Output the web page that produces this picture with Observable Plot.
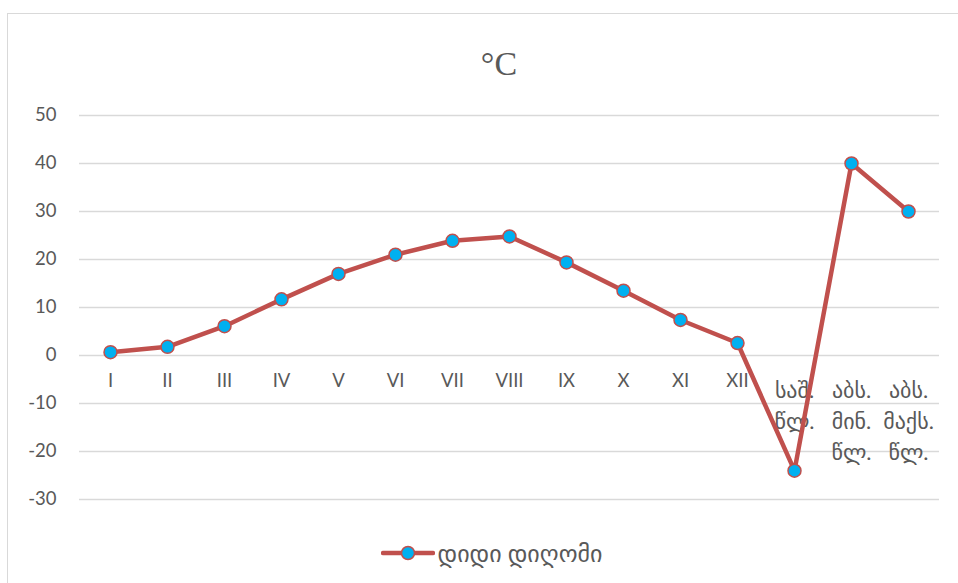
<!DOCTYPE html>
<html>
<head>
<meta charset="utf-8">
<script src="https://cdn.jsdelivr.net/npm/d3@7"></script>
<script src="https://cdn.jsdelivr.net/npm/@observablehq/plot@0.6"></script>
<style>
  body { margin: 0; background: #fff; }
  #wrap { position: relative; width: 958px; height: 583px; overflow: hidden; font-family: Lato, "DejaVu Sans", sans-serif; color: #595959; }
  #border { position: absolute; left: 7px; top: 13px; width: 1100px; height: 1100px; border: 1.5px solid #d9d9d9; box-sizing: border-box; }
  #title { position: relative; height: 95px; }
  #title span { position: absolute; left: 0; width: 998px; text-align: center; top: 47px; font-family: "Liberation Serif", "DejaVu Serif", serif; font-size: 34px; line-height: 34px; color: #595959; }
  #chart { position: relative; height: 430px; }
  #legend { position: relative; height: 58px; display: flex; justify-content: center; align-items: center; padding-left: 25px; box-sizing: border-box; margin-top: -1px; }
  #legend span { font-size: 24px; margin-left: 3px; }
</style>
</head>
<body>
<div id="wrap">
  <div id="border"></div>
  <div id="title"><span>°C</span></div>
  <div id="chart"></div>
  <div id="legend"></div>
</div>
<script>
const categories = ["I","II","III","IV","V","VI","VII","VIII","IX","X","XI","XII","საშ.\nწლ.","აბს.\nმინ.\nწლ.","აბს.\nმაქს.\nწლ."];
const values = [0.7, 1.8, 6.1, 11.7, 17.0, 21.0, 23.9, 24.8, 19.4, 13.5, 7.4, 2.6, -24.0, 40.0, 30.0];
const yTicks = [-30, -20, -10, 0, 10, 20, 30, 40, 50];
const seriesName = "დიდი დიღომი";
const lineColor = "#C0504D";
const dotColor = "#00B0F0";

const data = categories.map((c, i) => ({c, v: values[i]}));
const isGeorgian = s => /[\u10A0-\u10FF]/.test(s);
const romanCats = categories.filter(c => !isGeorgian(c));
const georgianCats = categories.filter(isGeorgian);

const chart = Plot.plot({
  width: 958,
  height: 430,
  marginTop: 20,
  marginBottom: 26,
  marginLeft: 79,
  marginRight: 19,
  style: {fontFamily: "Lato, 'DejaVu Sans', sans-serif", fontSize: "18.5px", color: "#595959", background: "transparent", overflow: "visible"},
  x: {type: "point", domain: categories, padding: 0.5, axis: null},
  y: {domain: [-30, 50], ticks: yTicks, tickSize: 0, tickPadding: 23, label: null, tickFormat: d => String(d)},
  marks: [
    Plot.ruleY(yTicks, {stroke: "#d9d9d9", strokeWidth: 1.3}),
    Plot.text(romanCats, {x: d => d, y: () => 0, text: d => d, lineAnchor: "top", dy: 18, fill: "#595959"}),
    Plot.text(georgianCats, {x: d => d, y: () => 0, text: d => d, lineAnchor: "top", dy: 20, lineHeight: 1.42, fontSize: 22, fill: "#595959"}),
    Plot.line(data, {x: "c", y: "v", stroke: lineColor, strokeWidth: 4.5, strokeLinejoin: "round", strokeLinecap: "round"}),
    Plot.dot(data, {x: "c", y: "v", r: 6.5, fill: dotColor, stroke: lineColor, strokeWidth: 1.5})
  ]
});
document.getElementById("chart").appendChild(chart);

const legend = document.getElementById("legend");
legend.innerHTML = `<svg width="54" height="16"><line x1="2" y1="8" x2="52" y2="8" stroke="${lineColor}" stroke-width="4.5" stroke-linecap="round"/><circle cx="27" cy="8" r="6.5" fill="${dotColor}" stroke="${lineColor}" stroke-width="1.5"/></svg><span>${seriesName}</span>`;
</script>
</body>
</html>
